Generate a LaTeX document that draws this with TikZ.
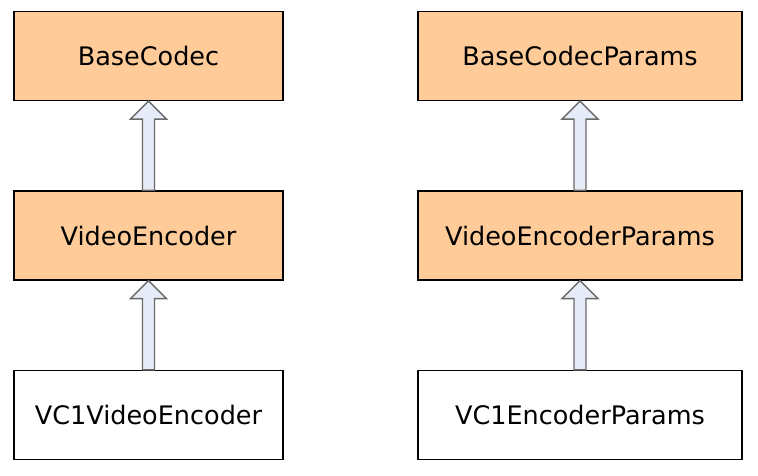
\documentclass[tikz,border=0pt]{standalone}
\usepackage{fontspec}
\setmainfont{DejaVu Sans}
\usepackage{tikz}
\usetikzlibrary{calc}

\definecolor{peach}{HTML}{FFCC99}
\definecolor{arrowfill}{HTML}{E6ECF7}
\definecolor{arrowline}{HTML}{6A6A6A}

\tikzset{
  classbox/.style={draw=black,line width=1.2pt,minimum height=89pt,
    inner sep=0pt,font=\fontsize{25.5}{29}\selectfont},
  based/.style={classbox,fill=peach},
  leaf/.style={classbox,fill=white},
  inherit/.style={draw=arrowline,fill=arrowfill,line width=1.4pt,line join=miter}
}

% hollow up-arrow from the lower box to the upper box
\newcommand\inheritarrow[2]{%
  \draw[inherit] ($(#1.north)+(-6pt,0)$) -- ($(#2.south)+(-6pt,-18pt)$)
    -- ($(#2.south)+(-18pt,-18pt)$) -- (#2.south)
    -- ($(#2.south)+(18pt,-18pt)$) -- ($(#2.south)+(6pt,-18pt)$)
    -- ($(#1.north)+(6pt,0)$) -- cycle;
}

\begin{document}
\begin{tikzpicture}[x=1pt,y=-1pt]
\pgfmathsetmacro\lx{148.5}
\pgfmathsetmacro\rx{580}
\useasboundingbox (0,0) rectangle (758,476);

\node[based,minimum width=269pt] (codec) at (\lx,56) {BaseCodec};
\node[based,minimum width=269pt] (encoder) at (\lx,235.5) {VideoEncoder};
\node[leaf,minimum width=269pt] (vc1encoder) at (\lx,415) {VC1VideoEncoder};

\node[based,minimum width=324pt] (codecparams) at (\rx,56) {BaseCodecParams};
\node[based,minimum width=324pt] (encoderparams) at (\rx,235.5) {VideoEncoderParams};
\node[leaf,minimum width=324pt] (vc1params) at (\rx,415) {VC1EncoderParams};

\inheritarrow{encoder}{codec}
\inheritarrow{vc1encoder}{encoder}
\inheritarrow{encoderparams}{codecparams}
\inheritarrow{vc1params}{encoderparams}
\end{tikzpicture}
\end{document}
